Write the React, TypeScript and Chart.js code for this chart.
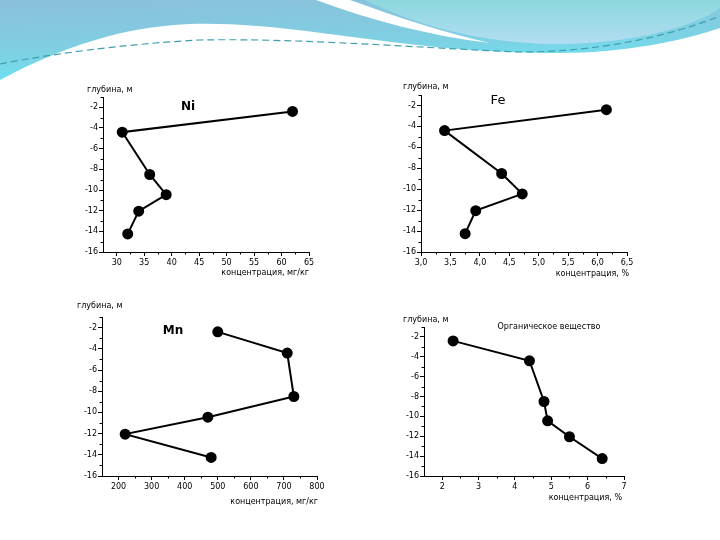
import React, { useRef, useEffect, FC } from 'react';
import { Chart, registerables } from 'chart.js';

Chart.register(...registerables);

// depth of each sample, m
const depths = [-2.4, -4.4, -8.5, -10.45, -12.05, -14.25];

// concentrations
const niValues = [62, 31, 36, 39, 34, 32];
const feValues = [6.15, 3.4, 4.37, 4.72, 3.93, 3.75];
const mnValues = [500, 710, 730, 470, 220, 480];
const orgValues = [2.3, 4.4, 4.8, 4.9, 5.5, 6.4];

// axis ticks
const depthTicks = [-16, -14, -12, -10, -8, -6, -4, -2];
const depthMinor = [-15, -13, -11, -9, -7, -5, -3, -1];
const niTicks = [30, 35, 40, 45, 50, 55, 60, 65];
const niMinor = [32.5, 37.5, 42.5, 47.5, 52.5, 57.5, 62.5];
const feTicks = [3.0, 3.5, 4.0, 4.5, 5.0, 5.5, 6.0, 6.5];
const feMinor = [3.25, 3.75, 4.25, 4.75, 5.25, 5.75, 6.25];
const mnTicks = [200, 300, 400, 500, 600, 700, 800];
const mnMinor = [250, 350, 450, 550, 650, 750];
const orgTicks = [2, 3, 4, 5, 6, 7];
const orgMinor = [2.5, 3.5, 4.5, 5.5, 6.5];

const depthLabel = 'глубина, м';
const mgLabel = 'концентрация, мг/кг';
const pctLabel = 'концентрация, %';

const FONT = "'DejaVu Sans', Verdana, sans-serif";
const YW = 45; // y axis box width
const PT = 25; // padding above plot
const PR = 12; // padding right of plot
const XH = 35; // x axis box height

type Pt = [number, number];

interface PanelProps {
  values: number[];
  xMin: number;
  xMax: number;
  xTicks: number[];
  xMinor: number[];
  comma?: boolean;
  plot: { left: number; top: number; right: number; bottom: number };
  title: string;
  titleFont: string;
  titleAt: Pt;
  depthAt: Pt;
  xTitle: string;
  xTitleAt: Pt;
}

const Panel: FC<PanelProps> = (p) => {
  const ref = useRef<HTMLCanvasElement>(null);
  const L = p.plot.left - YW;
  const T = p.plot.top - PT;
  const W = p.plot.right - p.plot.left + YW + PR;
  const H = p.plot.bottom - p.plot.top + PT + XH;

  useEffect(() => {
    const ctx = ref.current?.getContext('2d');
    if (!ctx) return;

    const extras = {
      id: 'extras',
      afterDraw(chart: Chart) {
        const { ctx: c, chartArea, scales } = chart;
        c.save();
        c.strokeStyle = '#000';
        c.lineWidth = 1;
        p.xMinor.forEach((v) => {
          const x = Math.round(scales.x.getPixelForValue(v)) + 0.5;
          c.beginPath();
          c.moveTo(x, chartArea.bottom);
          c.lineTo(x, chartArea.bottom + 2.5);
          c.stroke();
        });
        depthMinor.forEach((v) => {
          const y = Math.round(scales.y.getPixelForValue(v)) + 0.5;
          c.beginPath();
          c.moveTo(chartArea.left, y);
          c.lineTo(chartArea.left - 2.5, y);
          c.stroke();
        });
        c.fillStyle = '#000';
        c.textBaseline = 'middle';
        c.font = `8px ${FONT}`;
        c.textAlign = 'left';
        c.fillText(depthLabel, p.depthAt[0] - L, p.depthAt[1] - T);
        c.textAlign = 'right';
        c.fillText(p.xTitle, p.xTitleAt[0] - L, p.xTitleAt[1] - T);
        c.textAlign = 'center';
        c.font = p.titleFont;
        c.fillText(p.title, p.titleAt[0] - L, p.titleAt[1] - T);
        c.restore();
      },
    };

    const chart = new Chart(ctx, {
      type: 'scatter',
      data: {
        datasets: [
          {
            data: p.values.map((v, i) => ({ x: v, y: depths[i] })),
            showLine: true,
            borderColor: '#000',
            backgroundColor: '#000',
            borderWidth: 2,
            pointRadius: 4.5,
            pointHoverRadius: 4.5,
          },
        ],
      },
      options: {
        responsive: false,
        animation: false,
        layout: { autoPadding: false, padding: { top: PT, right: PR, left: 0, bottom: 0 } },
        plugins: { legend: { display: false }, tooltip: { enabled: false } },
        scales: {
          x: {
            type: 'linear',
            min: p.xMin,
            max: p.xMax,
            afterBuildTicks: (s) => {
              s.ticks = p.xTicks.map((v) => ({ value: v }));
            },
            afterFit: (s) => {
              s.height = XH;
            },
            grid: { drawOnChartArea: false, drawTicks: true, tickLength: 4, color: '#000' },
            border: { display: true, color: '#000', width: 1 },
            ticks: {
              color: '#000',
              font: { family: FONT, size: 8 },
              padding: 2,
              maxRotation: 0,
              autoSkip: false,
              callback: (v) => (p.comma ? Number(v).toFixed(1).replace('.', ',') : String(v)),
            },
          },
          y: {
            type: 'linear',
            min: -16,
            max: -1,
            afterBuildTicks: (s) => {
              s.ticks = depthTicks.map((v) => ({ value: v }));
            },
            afterFit: (s) => {
              s.width = YW;
            },
            grid: { drawOnChartArea: false, drawTicks: true, tickLength: 4, color: '#000' },
            border: { display: true, color: '#000', width: 1 },
            ticks: {
              color: '#000',
              font: { family: FONT, size: 8 },
              padding: 1,
              autoSkip: false,
              callback: (v) => String(v),
            },
          },
        },
      },
      plugins: [extras],
    });

    return () => {
      chart.destroy();
    };
  }, []);

  return (
    <canvas
      ref={ref}
      width={W}
      height={H}
      style={{ position: 'absolute', left: L, top: T, width: W, height: H }}
    />
  );
};

const Header: FC = () => (
  <svg width={720} height={100} style={{ position: 'absolute', left: 0, top: 0 }}>
    <defs>
      <linearGradient id="band" x1="0" y1="0" x2="0.3" y2="1">
        <stop offset="0" stopColor="#8bbfdc" />
        <stop offset="0.6" stopColor="#7fcfe2" />
        <stop offset="1" stopColor="#6ae4f2" />
      </linearGradient>
      <linearGradient id="bubble" x1="0" y1="0" x2="0" y2="1">
        <stop offset="0" stopColor="#8cd8dd" />
        <stop offset="1" stopColor="#b2ddf2" />
      </linearGradient>
    </defs>
    <path
      d="M0,0 H720 V28 C680,42 620,53 560,53 C480,53 420,46 360,38 C300,30 240,22 190,24 C120,27 60,48 0,80 Z"
      fill="url(#band)"
    />
    <path d="M316,0 H350 C400,18 445,33 490,43 C430,36 370,20 316,0 Z" fill="#fff" />
    <path
      d="M345,0 H720 V8 C690,30 620,45 550,44 C470,42 410,22 365,0 Z"
      fill="url(#bubble)"
    />
    <path
      d="M0,64 C40,56 120,44 200,40 C300,38 420,48 520,52 C600,52 670,36 720,16"
      stroke="#3f9fae"
      strokeWidth={1.2}
      strokeDasharray="7 4"
      fill="none"
    />
  </svg>
);

const App: FC = () => (
  <div style={{ position: 'absolute', left: 0, top: 0, width: 720, height: 540, background: '#fff', overflow: 'hidden' }}>
    <Header />
    <Panel
      values={niValues}
      xMin={27.5}
      xMax={65}
      xTicks={niTicks}
      xMinor={niMinor}
      plot={{ left: 103, top: 97, right: 309, bottom: 252 }}
      title="Ni"
      titleFont={`bold 12px ${FONT}`}
      titleAt={[188, 107]}
      depthAt={[87, 90]}
      xTitle={mgLabel}
      xTitleAt={[309, 273]}
    />
    <Panel
      values={feValues}
      xMin={3.0}
      xMax={6.5}
      xTicks={feTicks}
      xMinor={feMinor}
      comma
      plot={{ left: 421, top: 94.5, right: 627, bottom: 252 }}
      title="Fe"
      titleFont={`13px ${FONT}`}
      titleAt={[498, 100]}
      depthAt={[403, 86]}
      xTitle={pctLabel}
      xTitleAt={[629, 273]}
    />
    <Panel
      values={mnValues}
      xMin={150}
      xMax={800}
      xTicks={mnTicks}
      xMinor={mnMinor}
      plot={{ left: 102, top: 317, right: 317, bottom: 476 }}
      title="Mn"
      titleFont={`bold 12px ${FONT}`}
      titleAt={[173, 331]}
      depthAt={[77, 306]}
      xTitle={mgLabel}
      xTitleAt={[318, 502]}
    />
    <Panel
      values={orgValues}
      xMin={1.5}
      xMax={7}
      xTicks={orgTicks}
      xMinor={orgMinor}
      plot={{ left: 424, top: 327, right: 624, bottom: 476 }}
      title="Органическое вещество"
      titleFont={`8px ${FONT}`}
      titleAt={[549, 327]}
      depthAt={[403, 320]}
      xTitle={pctLabel}
      xTitleAt={[622, 498]}
    />
  </div>
);

export default App;
